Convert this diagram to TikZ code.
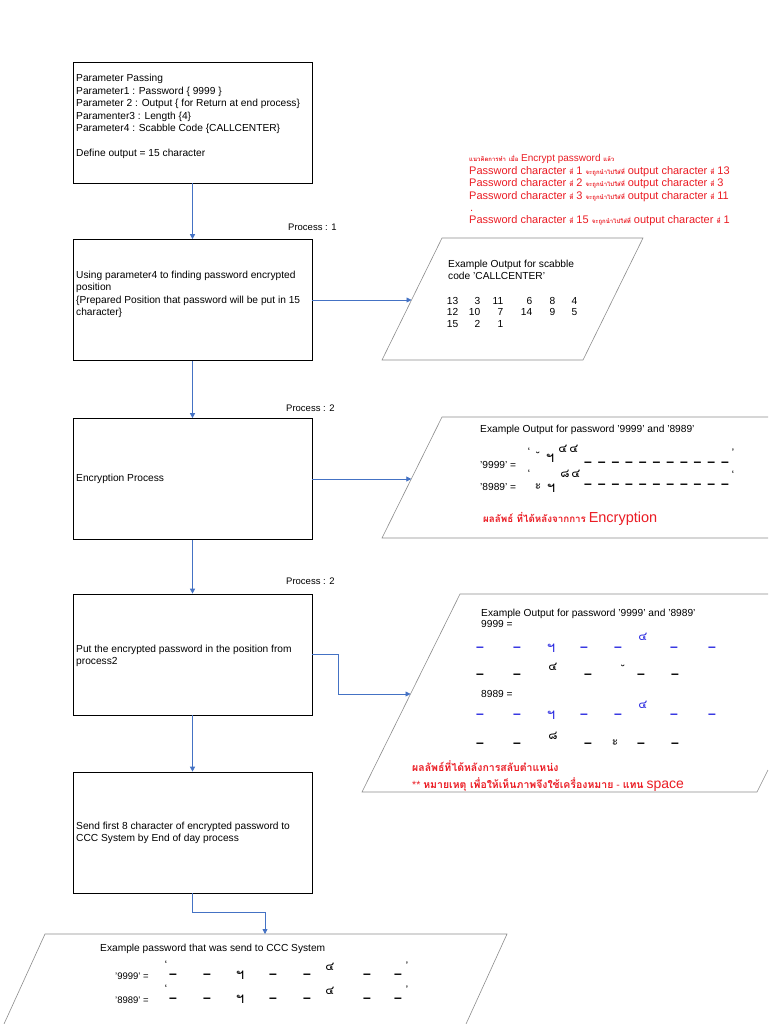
\documentclass[tikz,border=0pt]{standalone}
\usepackage{fontspec}
\setmainfont{Liberation Sans}
\newfontfamily\thf[Script=Thai]{Loma}
\usetikzlibrary{arrows.meta}
\definecolor{connblue}{RGB}{68,114,196}
\definecolor{notered}{RGB}{235,28,36}
\definecolor{encblue}{RGB}{45,45,225}
\definecolor{pgray}{RGB}{140,140,140}
\newcommand\numcell[2]{\makebox[#1pt][r]{#2}}
\newcommand\thsmall[1]{{\thf\bfseries\fontsize{6}{8}\selectfont #1}}
\begin{document}
\begin{tikzpicture}[x=1pt,y=-1pt,
  procbox/.style={draw=black,line width=0.7pt,minimum width=239pt,minimum height=121pt,inner sep=0pt},
  para/.style={draw=pgray,line width=0.6pt},
  flow/.style={draw=connblue,line width=0.8pt,-{Triangle[length=5pt,width=5pt]}},
  txt/.style={anchor=base west,inner sep=0pt,font=\fontsize{10.2}{12.5}\selectfont},
  proclabel/.style={anchor=base west,inner sep=0pt,font=\fontsize{9.5}{11}\selectfont},
  note/.style={anchor=base west,inner sep=0pt,text=notered,font=\fontsize{11}{12.4}\selectfont},
  ench/.style={inner sep=0pt,font=\thf\fontsize{12}{12}\selectfont},
  encbig/.style={inner sep=0pt,font=\thf\fontsize{15}{15}\selectfont},
  brv/.style={inner sep=0pt,font=\bfseries\fontsize{10}{10}\selectfont},
  qt/.style={inner sep=0pt,font=\bfseries\fontsize{8}{8}\selectfont},
  spc/.style={anchor=base,inner sep=0pt,font=\bfseries\fontsize{14}{14}\selectfont},
  bluerow/.style={text=encblue}]
\useasboundingbox (0,0) rectangle (768,1024);
\fill[white] (0,0) rectangle (768,1024);

% ---------- process boxes ----------
\node[procbox] (b1) at (192.5,122.5) {};
\node[procbox] (b2) at (192.5,300) {};
\node[procbox] (b3) at (192.5,479) {};
\node[procbox] (b4) at (192.5,654.5) {};
\node[procbox] (b5) at (192.5,832.5) {};

\node[txt] (t1) at (76,82) {\parbox[t]{235pt}{Parameter Passing\\
Parameter1 : Password \{ 9999 \}\\
Parameter 2 : Output \{ for Return at end process\}\\
Paramenter3 : Length \{4\}\\
Parameter4 : Scabble Code \{CALLCENTER\}\\[12.5pt]
Define output = 15 character}};
\node[txt] (t2) at (76,278) {\parbox[t]{235pt}{Using parameter4 to finding password encrypted\\
position\\
\{Prepared Position that password will be put in 15\\
character\}}};
\node[txt] (t3) at (76,481) {Encryption Process};
\node[txt] (t4) at (76,652) {\parbox[t]{235pt}{Put the encrypted password in the position from\\process2}};
\node[txt] (t5) at (76,829) {\parbox[t]{235pt}{Send first 8 character of encrypted password to\\CCC System by End of day process}};

\node[proclabel] (pl1) at (288,230) {Process : 1};
\node[proclabel] (pl2) at (286,411) {Process : 2};
\node[proclabel] (pl3) at (286,584) {Process : 2};

% ---------- parallelograms ----------
\draw[para] (442,238) -- (643,238) -- (583,360) -- (382,360) -- cycle;
\draw[para] (768,417) -- (442,417) -- (382,538) -- (768,538);
\draw[para] (768,594) -- (460,594) -- (362,792) -- (757,792) -- (768,770);
\draw[para] (4,1024) -- (45,934) -- (507,934) -- (466,1024);

\coordinate (c1) at (411.5,300);
\coordinate (c2) at (411.3,479);
\coordinate (c3) at (410.5,694);
\coordinate (c4) at (265,934);

% ---------- connectors ----------
\draw[flow] (b1.south) -- (b2.north);
\draw[flow] (b2.south) -- (b3.north);
\draw[flow] (b3.south) -- (b4.north);
\draw[flow] (b4.south) -- (b5.north);
\draw[flow] (b2.east) -- (c1);
\draw[flow] (b3.east) -- (c2);
\draw[flow] (b4.east) -- ++(26,0) |- (c3);
\draw[flow] (b5.south) -- ++(0,19) -| (c4);

% ---------- red note top right ----------
\node[note] (rn) at (469,162) {\parbox[t]{300pt}{%
{\fontsize{10}{12.4}\selectfont\thsmall{แนวคิดการทำ} \thsmall{เมื่อ} Encrypt password \thsmall{แล้ว}}\\
Password character \thsmall{ที่} 1 \thsmall{จะถูกนำไปใส่ที่} output character \thsmall{ที่} 13\\
Password character \thsmall{ที่} 2 \thsmall{จะถูกนำไปใส่ที่} output character \thsmall{ที่} 3\\
Password character \thsmall{ที่} 3 \thsmall{จะถูกนำไปใส่ที่} output character \thsmall{ที่} 11\\
\hspace*{1pt}.\\
Password character \thsmall{ที่} 15 \thsmall{จะถูกนำไปใส่ที่} output character \thsmall{ที่} 1}};

% ---------- parallelogram 1 ----------
\node[txt] (p1h) at (448,267) {\parbox[t]{200pt}{Example Output for scabble\\code 'CALLCENTER'}};
\node[txt] (p1n) at (447,304) {\parbox[t]{200pt}{\fontsize{10.2}{11.6}\selectfont
\numcell{11}{13}\numcell{22}{3}\numcell{23}{11}\numcell{29}{6}\numcell{23}{8}\numcell{22}{4}\\
\numcell{11}{12}\numcell{22}{10}\numcell{23}{7}\numcell{29}{14}\numcell{23}{9}\numcell{22}{5}\\
\numcell{11}{15}\numcell{22}{2}\numcell{23}{1}}};

% ---------- parallelogram 2 ----------
\node[txt] (p2h) at (480,432) {Example Output for password '9999' and '8989'};
\node[txt] (p2a) at (480,468) {'9999' =};
\node[txt] (p2b) at (480,490) {'8989' =};
\node[qt] (p2q1) at (529,451) {‘};
\node[brv] (p2e1) at (538,456) {˘};
\node[encbig] (p2e2) at (550,458) {ฯ};
\node[ench] (p2e3) at (563,449) {๔};
\node[ench] (p2e4) at (574,449) {๔};
\foreach \i in {0,...,10} \node[spc] (p2d\i) at (588+13.7*\i,466) {–};
\node[qt] (p2q2) at (733,452) {’};
\node[qt] (p2q3) at (529,473) {‘};
\node[ench] (p2f1) at (538,487) {ะ};
\node[encbig] (p2f2) at (551,488) {ฯ};
\node[ench] (p2f3) at (565,474) {๘};
\node[ench] (p2f4) at (576,474) {๔};
\foreach \i in {0,...,10} \node[spc] (p2g\i) at (588+13.7*\i,488) {–};
\node[qt] (p2q4) at (733,474) {‘};
\node[note,font=\fontsize{9.8}{12}\selectfont] (p2n) at (483,522) {{\thf\bfseries ผลลัพธ์ ที่ได้หลังจากการ} {\fontsize{14.5}{15}\selectfont Encryption}};

% ---------- parallelogram 3 ----------
\node[txt] (p3h) at (481,616) {Example Output for password '9999' and '8989'};
\node[txt] (p3a) at (481,627) {9999 =};
\node[txt] (p3b) at (481,697) {8989 =};
\foreach \x [count=\k] in {480,517,584,618,674,712} \node[spc,bluerow] (r1d\k) at (\x,651) {–};
\node[encbig,bluerow] (r1e1) at (551,648) {ฯ};
\node[ench,bluerow] (r1e2) at (643,637) {๔};
\foreach \x [count=\k] in {480,517,588,641,675} \node[spc] (r2d\k) at (\x,678) {–};
\node[ench] (r2e1) at (553,667) {๔};
\node[brv] (r2e2) at (623,669) {˘};
\foreach \x [count=\k] in {480,517,584,618,674,712} \node[spc,bluerow] (r3d\k) at (\x,718) {–};
\node[encbig,bluerow] (r3e1) at (551,715) {ฯ};
\node[ench,bluerow] (r3e2) at (643,705) {๔};
\foreach \x [count=\k] in {480,517,588,641,675} \node[spc] (r4d\k) at (\x,747) {–};
\node[ench] (r4e1) at (553,736) {๘};
\node[ench] (r4e2) at (615,743) {ะ};
\node[note,font=\fontsize{10.5}{12}\selectfont] (p3n1) at (412,771) {{\thf\bfseries ผลลัพธ์ที่ได้หลังการสลับตำแหน่ง}};
\node[note,font=\fontsize{10.5}{12}\selectfont] (p3n2) at (412,788) {** {\thf\bfseries หมายเหตุ เพื่อให้เห็นภาพจึงใช้เครื่องหมาย} - {\thf\bfseries แทน} {\fontsize{14}{14}\selectfont space}};

% ---------- parallelogram 4 ----------
\node[txt] (p4h) at (100,951) {Example password that was send to CCC System};
\node[txt,font=\fontsize{9.5}{11}\selectfont] (p4a) at (115,979) {'9999' =};
\node[txt,font=\fontsize{9.5}{11}\selectfont] (p4b) at (115,1003) {'8989' =};
\node[qt] (p4q1) at (166,964) {‘};
\foreach \x [count=\k] in {173,207,273,307,367,398} \node[spc] (s1d\k) at (\x,978) {–};
\node[encbig] (s1e1) at (240,975) {ฯ};
\node[ench] (s1e2) at (330,967) {๔};
\node[qt] (p4q2) at (407,965) {’};
\node[qt] (p4q3) at (166,988) {‘};
\foreach \x [count=\k] in {173,207,273,307,367,398} \node[spc] (s2d\k) at (\x,1002) {–};
\node[encbig] (s2e1) at (240,999) {ฯ};
\node[ench] (s2e2) at (330,991) {๔};
\node[qt] (p4q4) at (407,989) {’};
\end{tikzpicture}
\end{document}
